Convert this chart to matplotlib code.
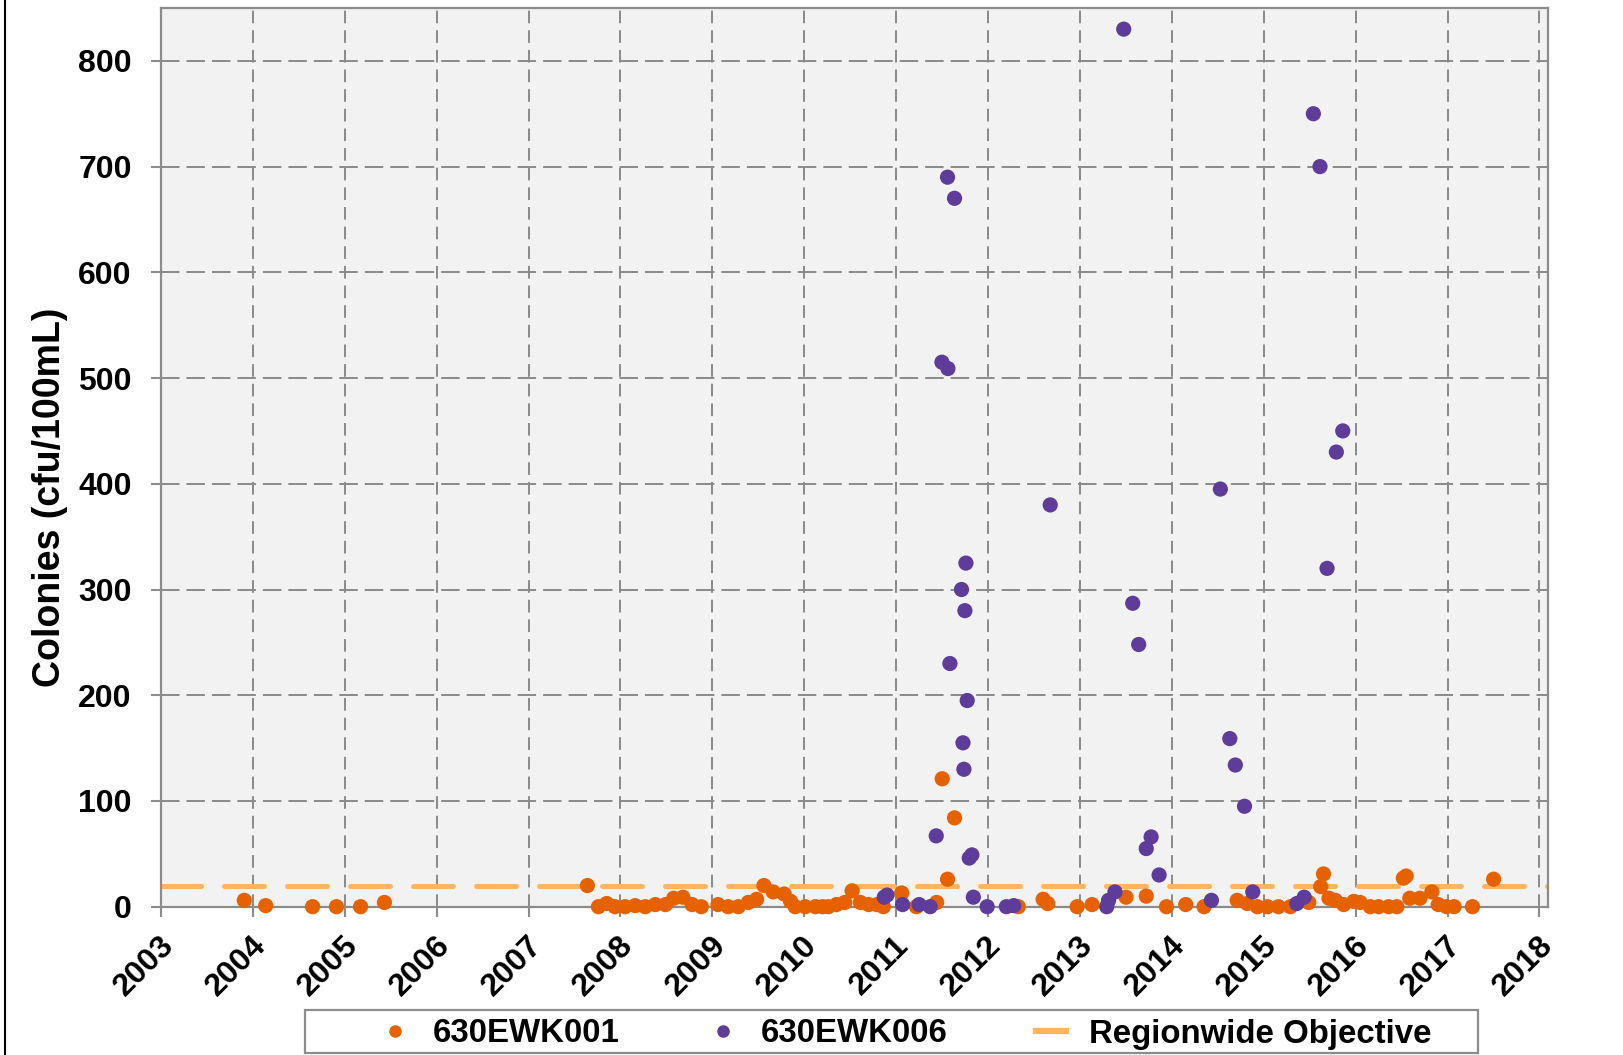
import matplotlib
matplotlib.use("Agg")
import matplotlib.pyplot as plt
import matplotlib.transforms as mtransforms
from matplotlib.lines import Line2D
from matplotlib.patches import Rectangle
import numpy as np
import pandas as pd

plt.rcParams['font.family'] = ['Liberation Sans', 'DejaVu Sans']
plt.rcParams['font.weight'] = 'bold'

# ---- data (sample dates as decimal years, values in cfu/100mL) ----
ewk001_t = [2003.906, 2004.14, 2004.65, 2004.91, 2005.17, 2005.43,
            2007.64, 2007.76, 2007.85, 2007.94, 2008.05, 2008.16, 2008.27,
            2008.38, 2008.49, 2008.58, 2008.68, 2008.78, 2008.88,
            2009.06, 2009.17, 2009.28, 2009.39, 2009.48, 2009.56, 2009.66,
            2009.78, 2009.85, 2009.90, 2010.01, 2010.12, 2010.20, 2010.26,
            2010.35, 2010.44, 2010.52, 2010.61, 2010.70, 2010.79, 2010.86,
            2011.06, 2011.22, 2011.44, 2011.501, 2011.559, 2011.635,
            2012.33, 2012.60, 2012.65, 2012.97, 2013.13, 2013.50, 2013.72,
            2013.94, 2014.15, 2014.35, 2014.71, 2014.82, 2014.93, 2015.04,
            2015.16, 2015.29, 2015.49, 2015.62, 2015.65, 2015.71, 2015.78,
            2015.87, 2015.98, 2016.05, 2016.16, 2016.25, 2016.36, 2016.45,
            2016.52, 2016.55, 2016.59, 2016.70, 2016.83, 2016.90, 2016.99,
            2017.07, 2017.27, 2017.50]
ewk001_v = [6, 1, 0, 0, 0, 4,
            20, 0, 3, 0, 0, 1, 0,
            2, 2, 8, 9, 2, 0,
            2, 0, 0, 4, 7, 20, 14,
            12, 5, 0, 0, 0, 0, 0,
            2, 4, 15, 4, 2, 2, 0,
            13, 0, 4, 121, 26, 84,
            0, 7, 3, 0, 2, 9, 10,
            0, 2, 0, 6, 3, 0, 0,
            0, 0, 4, 19, 31, 8, 6,
            2, 5, 4, 0, 0, 0, 0,
            27, 29, 8, 8, 14, 2, 0,
            0, 0, 26]

ewk006_t = [2010.87, 2010.90, 2011.07, 2011.25, 2011.37, 2011.436, 2011.498,
            2011.559, 2011.563, 2011.585, 2011.635, 2011.711, 2011.727,
            2011.737, 2011.748, 2011.759, 2011.773, 2011.795, 2011.824,
            2011.84, 2011.99, 2012.20, 2012.28, 2012.677,
            2013.29, 2013.31, 2013.38, 2013.475, 2013.573, 2013.638, 2013.72,
            2013.773, 2013.86, 2014.43, 2014.527, 2014.63, 2014.69, 2014.79,
            2014.88, 2015.36, 2015.44, 2015.54, 2015.612, 2015.689, 2015.79,
            2015.86]
ewk006_v = [9, 11, 2, 2, 0, 67, 515,
            690, 509, 230, 670, 300, 155,
            130, 280, 325, 195, 46, 49,
            9, 0, 0, 1, 380,
            0, 6, 14, 830, 287, 248, 55,
            66, 30, 6, 395, 159, 134, 95,
            14, 3, 9, 750, 700, 320, 430,
            450]

objective_value = 20
years = list(range(2003, 2019))
yticks = list(range(0, 801, 100))
series_names = ["630EWK001", "630EWK006", "Regionwide Objective"]

c_orange = '#E66100'
c_purple = '#5E3C99'
c_obj = '#FFB55E'
c_grid = '#8a8a8a'


def to_dates(dec_years):
    arr = np.asarray(dec_years, dtype=float)
    base = pd.to_datetime([f"{int(y)}-01-01" for y in np.floor(arr)])
    return base + pd.to_timedelta((arr - np.floor(arr)) * 365.25, unit='D')


W, H = 1624, 1055
fig = plt.figure(figsize=(W / 100, H / 100), dpi=100)
ax = fig.add_axes([161 / W, 1 - 906.7 / H, (1548.3 - 161) / W, (906.7 - 8) / H])
ax.set_facecolor('#F2F2F2')

ax.set_xlim(pd.Timestamp('2003-01-01'), pd.Timestamp('2018-02-05'))
ax.set_ylim(0, 850)

# grid
ax.set_xticks([pd.Timestamp(f"{y}-01-01") for y in years])
ax.set_xticklabels([str(y) for y in years])
ax.set_yticks(yticks)
ax.set_yticklabels([str(v) for v in yticks])
ax.xaxis.grid(True, color=c_grid, lw=1.4, linestyle=(0, (6.5, 3.6)), zorder=0)
ax.yaxis.grid(True, color=c_grid, lw=1.4, linestyle=(0, (9.5, 3.6)), zorder=0)
ax.set_axisbelow(True)

# objective line
ax.axhline(objective_value, color=c_obj, lw=3.6, linestyle=(0, (8.0, 4.6)),
           dash_capstyle='round', zorder=2)

# points
ax.scatter(to_dates(ewk001_t), ewk001_v, s=120, color=c_orange, edgecolor='none',
           zorder=3, clip_on=False)
ax.scatter(to_dates(ewk006_t), ewk006_v, s=120, color=c_purple, edgecolor='none',
           zorder=4, clip_on=False)

for sp in ax.spines.values():
    sp.set_color('#8c8c8c')
    sp.set_linewidth(1.6)

ax.tick_params(axis='both', direction='out', length=7, width=1.5, color='#8c8c8c',
               labelsize=23)
ax.tick_params(axis='y', pad=14)
ax.tick_params(axis='x', pad=10)
for lab in ax.get_xticklabels():
    lab.set_rotation(45)
    lab.set_ha('right')
    lab.set_va('top')
    lab.set_rotation_mode('anchor')
    lab.set_fontweight('bold')
    lab.set_transform(lab.get_transform() +
                      mtransforms.ScaledTranslation(-2 / 100, 0, fig.dpi_scale_trans))
for lab in ax.get_yticklabels():
    lab.set_fontweight('bold')

fig.text(50 / W, 1 - 497 / H, "Colonies (cfu/100mL)", rotation=90, ha='center',
         va='center', fontsize=27, fontweight='bold')

# legend
fig.patches.append(Rectangle((305 / W, 1 - 1053 / H), (1478 - 305) / W, (1053 - 1010) / H,
                             transform=fig.transFigure, fill=False,
                             edgecolor='#8c8c8c', lw=1.6))
handles = [Line2D([], [], marker='o', ls='none', color=c_orange, markersize=8),
           Line2D([], [], marker='o', ls='none', color=c_purple, markersize=8),
           Line2D([], [], color=c_obj, lw=4.5)]
fig.legend(handles, series_names, loc='center left',
           bbox_to_anchor=(380 / W, 1 - 1034 / H), ncol=3, frameon=False,
           borderpad=0, borderaxespad=0, handlelength=0.9, handletextpad=0.7,
           columnspacing=2.67, prop={'size': 23.8, 'weight': 'bold'})

fig.add_artist(Line2D([5 / W, 5 / W], [0, 1], transform=fig.transFigure,
                      color='black', lw=1.5))

fig.savefig('out.png', dpi=100)
